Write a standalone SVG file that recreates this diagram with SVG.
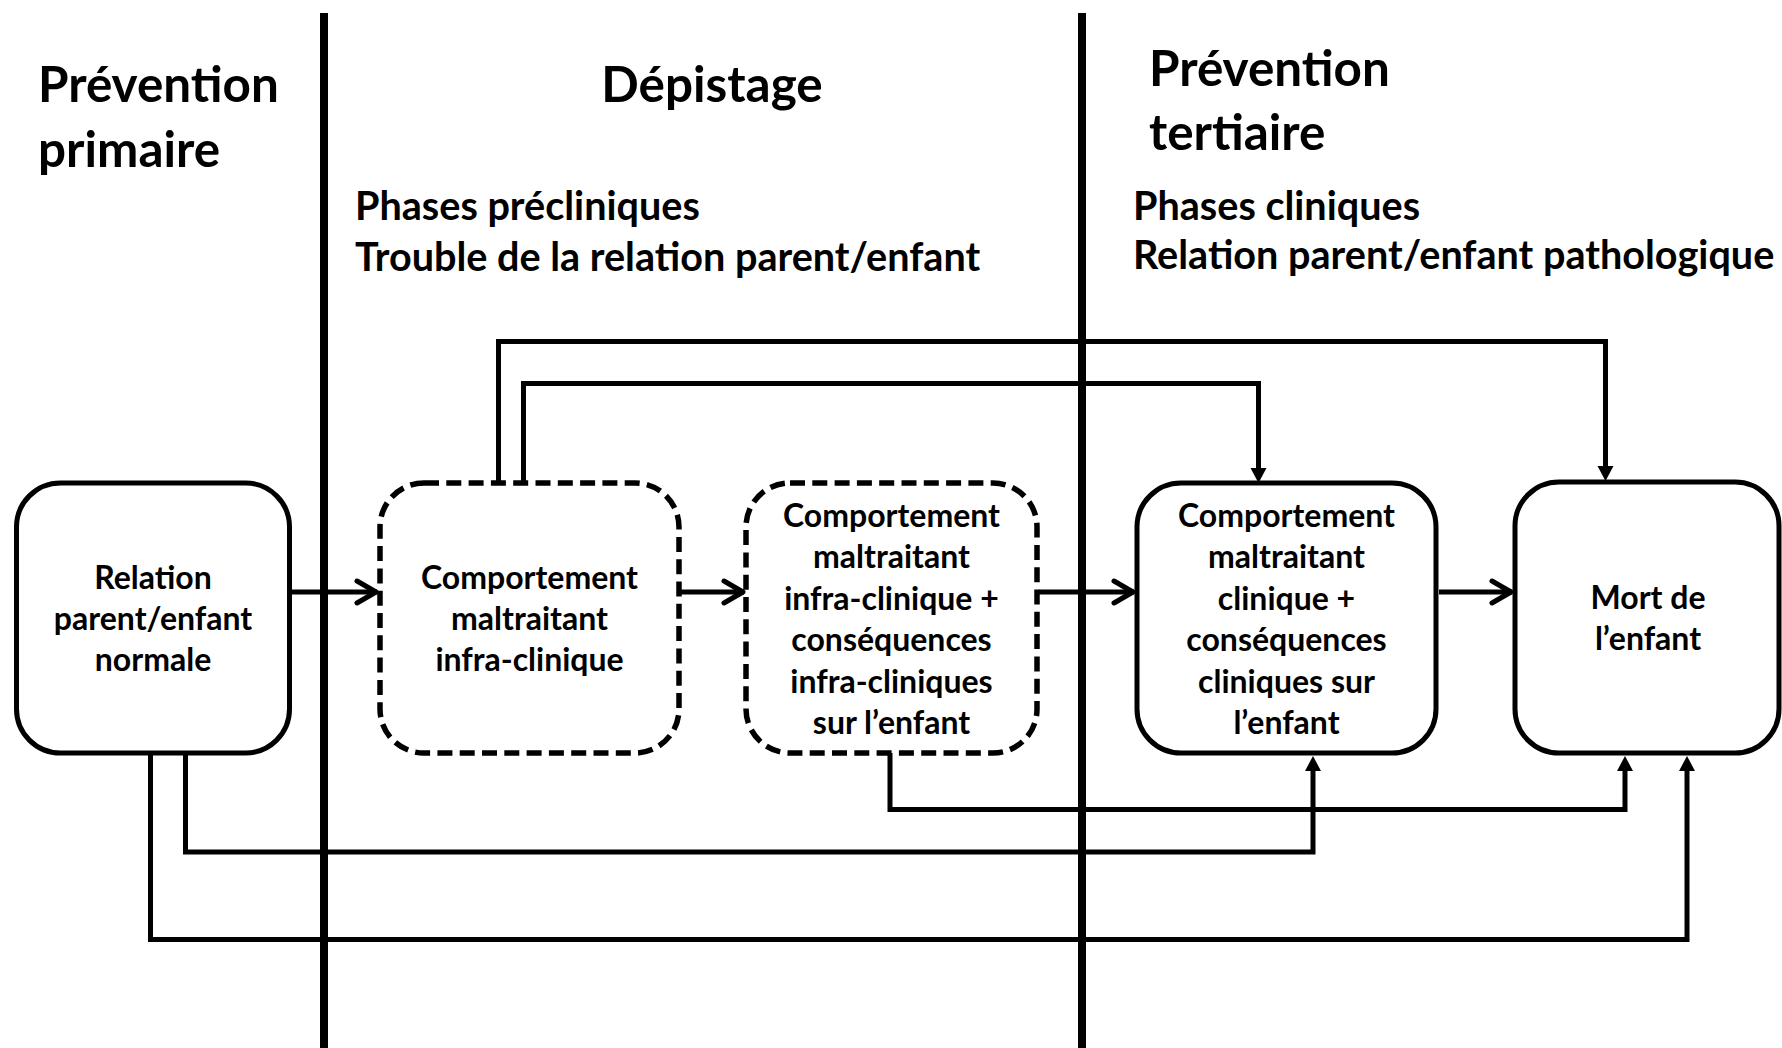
<svg xmlns="http://www.w3.org/2000/svg" width="1782" height="1048" viewBox="0 0 1782 1048">
<defs>
<style>
text{font-family:Lato,"Open Sans","Liberation Sans",sans-serif;font-weight:bold;fill:#000}
.h1{font-size:49.4px}
.h2{font-size:39.6px}
.n{font-size:32px;text-anchor:middle}
.box{fill:#fff;stroke:#000;stroke-width:5}
.dash{stroke-dasharray:15 7.3;stroke-width:5.5}
.sep{stroke:#000;stroke-width:8;fill:none}
.flow{stroke:#000;stroke-width:5;fill:none;marker-end:url(#chev)}
.link{stroke:#000;stroke-width:5;fill:none;marker-end:url(#tri)}
</style>
<marker id="chev" markerUnits="userSpaceOnUse" viewBox="-26 -16 30 32" markerWidth="30" markerHeight="32" refX="1" refY="0" orient="auto">
<path d="M-19,-11 L0,0 L-19,11" fill="none" stroke="#000" stroke-width="5" stroke-linecap="round" stroke-linejoin="round"/>
</marker>
<marker id="tri" markerUnits="userSpaceOnUse" viewBox="0 -9 16 18" markerWidth="16" markerHeight="18" refX="7" refY="0" orient="auto">
<path d="M0,-8 L15,0 L0,8 Z" fill="#000"/>
</marker>
</defs>
<rect width="1782" height="1048" fill="#fff"/>

<g id="headers">
<text class="h1" x="38" y="102">Prévention</text>
<text class="h1" x="38" y="167">primaire</text>
<text class="h1" x="712" y="102" text-anchor="middle">Dépistage</text>
<text class="h2" x="355" y="220">Phases précliniques</text>
<text class="h2" x="355" y="271">Trouble de la relation parent/enfant</text>
<text class="h1" x="1149" y="86">Prévention</text>
<text class="h1" x="1149" y="150">tertiaire</text>
<text class="h2" x="1133" y="219.5">Phases cliniques</text>
<text class="h2" x="1133" y="269">Relation parent/enfant pathologique</text>
</g>

<g id="separators">
<line class="sep" x1="324" y1="13" x2="324" y2="1048"/>
<line class="sep" x1="1082" y1="13" x2="1082" y2="1048"/>
</g>

<g id="connectors">
<path class="flow" d="M292,592 H377"/>
<path class="flow" d="M681,592 H744"/>
<path class="flow" d="M1039,592 H1134"/>
<path class="flow" d="M1439,592 H1512"/>
<path class="link" d="M498.5,483 V341.5 H1605.5 V473"/>
<path class="link" d="M523.5,483 V383.5 H1258.5 V475"/>
<path class="link" d="M890,753 V809.5 H1625 V764"/>
<path class="link" d="M185.5,753 V852 H1313 V764"/>
<path class="link" d="M150.5,753 V939.5 H1687 V764"/>
</g>

<g id="node-normale">
<rect class="box" x="16.5" y="483" width="273" height="270" rx="44"/>
<text class="n" x="153" y="589">Relation</text>
<text class="n" x="153" y="630">parent/enfant</text>
<text class="n" x="153" y="671">normale</text>
</g>

<g id="node-infra">
<rect class="box dash" x="380" y="483" width="299" height="270" rx="44"/>
<text class="n" x="529.5" y="589">Comportement</text>
<text class="n" x="529.5" y="630">maltraitant</text>
<text class="n" x="529.5" y="671">infra-clinique</text>
</g>

<g id="node-infra-consequences">
<rect class="box dash" x="746" y="483" width="291" height="270" rx="44"/>
<text class="n" x="891.5" y="526.5">Comportement</text>
<text class="n" x="891.5" y="568">maltraitant</text>
<text class="n" x="891.5" y="609.5">infra-clinique +</text>
<text class="n" x="891.5" y="651">conséquences</text>
<text class="n" x="891.5" y="692.5">infra-cliniques</text>
<text class="n" x="891.5" y="734">sur l’enfant</text>
</g>

<g id="node-clinique">
<rect class="box" x="1137" y="483" width="299" height="270" rx="44"/>
<text class="n" x="1286.5" y="526.5">Comportement</text>
<text class="n" x="1286.5" y="568">maltraitant</text>
<text class="n" x="1286.5" y="609.5">clinique +</text>
<text class="n" x="1286.5" y="651">conséquences</text>
<text class="n" x="1286.5" y="692.5">cliniques sur</text>
<text class="n" x="1286.5" y="734">l’enfant</text>
</g>

<g id="node-mort">
<rect class="box" x="1515" y="482" width="264" height="271" rx="44"/>
<text class="n" x="1648" y="609">Mort de</text>
<text class="n" x="1648" y="650">l’enfant</text>
</g>
</svg>
